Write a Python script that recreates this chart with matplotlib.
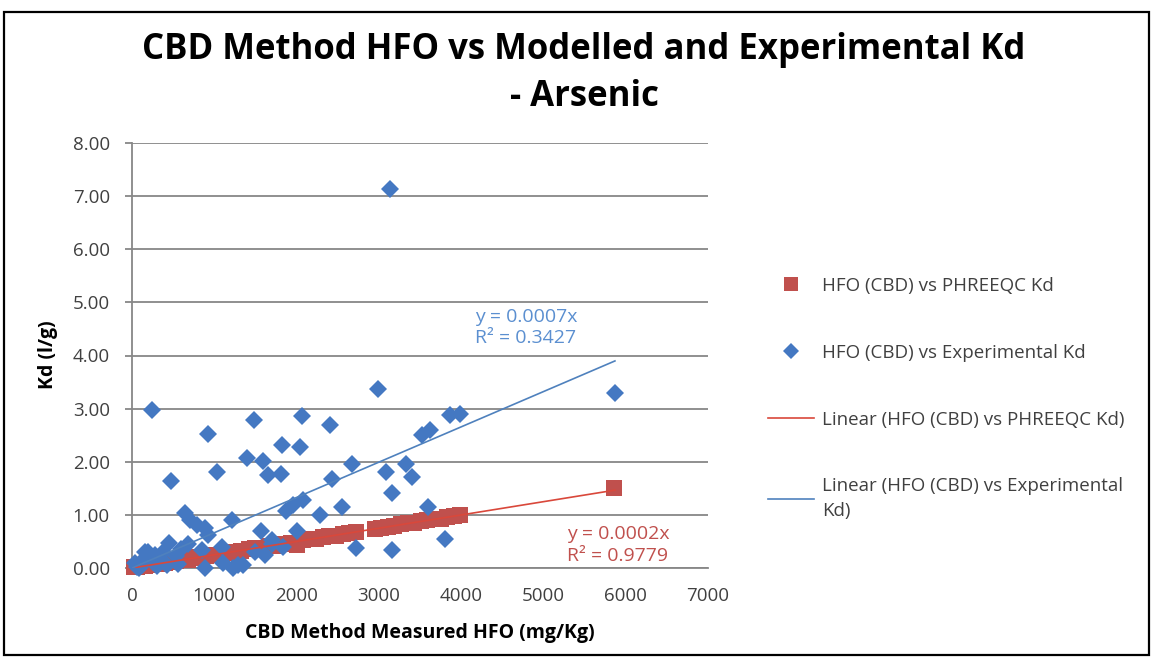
import matplotlib
matplotlib.use('Agg')
import matplotlib.pyplot as plt
import numpy as np
from matplotlib.lines import Line2D
from matplotlib.patches import Rectangle

plt.rcParams['font.family'] = ['Open Sans', 'DejaVu Sans']

# ---------------- data ----------------
hfo_phreeqc = [20, 60, 110, 160, 220, 280, 340, 400, 470, 540, 610, 680, 750, 820,
               900, 980, 1060, 1150, 1240, 1330, 1420, 1500, 1580, 1660, 1750, 1840,
               1930, 2000, 2080, 2160, 2240, 2320, 2400, 2480, 2560, 2640, 2720, 2950,
               3030, 3110, 3190, 3270, 3350, 3430, 3510, 3590, 3670, 3750, 3830, 3910,
               3990, 5860]
kd_phreeqc = [0.01, 0.02, 0.03, 0.04, 0.05, 0.07, 0.08, 0.09, 0.11, 0.13, 0.15, 0.16,
              0.18, 0.20, 0.22, 0.24, 0.25, 0.28, 0.30, 0.32, 0.35, 0.37, 0.38, 0.41,
              0.42, 0.45, 0.47, 0.44, 0.52, 0.54, 0.55, 0.58, 0.60, 0.61, 0.64, 0.66,
              0.68, 0.74, 0.76, 0.78, 0.79, 0.82, 0.84, 0.85, 0.88, 0.90, 0.92, 0.93,
              0.96, 0.98, 1.00, 1.51]

hfo_exp = [3135, 238, 927, 1486, 2066, 2406, 2993, 3520, 3621, 3864, 3985, 5869,
           1826, 2045, 1393, 1588, 1656, 1810, 1029, 474, 2677, 2430, 3082, 3326,
           3402, 3163, 3600, 2074, 1960, 1868, 2548, 2284, 1211, 644, 705, 786, 887,
           927, 1571, 2001, 2722, 3163, 3803, 450, 198, 684, 847, 1090, 1616, 1697,
           1839, 887, 1231, 1349, 36, 158, 279, 60, 120, 250, 350, 420, 530, 600,
           380, 1110, 1290, 1500, 1700, 90, 300, 560, 160]
kd_exp = [7.13, 2.97, 2.52, 2.79, 2.86, 2.69, 3.37, 2.50, 2.60, 2.88, 2.90, 3.30,
          2.31, 2.28, 2.08, 2.01, 1.75, 1.77, 1.81, 1.64, 1.96, 1.68, 1.81, 1.95,
          1.71, 1.41, 1.14, 1.28, 1.19, 1.08, 1.14, 1.00, 0.90, 1.04, 0.90, 0.81,
          0.75, 0.62, 0.70, 0.70, 0.38, 0.34, 0.54, 0.48, 0.30, 0.46, 0.34, 0.40,
          0.24, 0.53, 0.40, 0.00, 0.00, 0.06, 0.09, 0.31, 0.24, 0.02, 0.05, 0.12,
          0.16, 0.05, 0.22, 0.36, 0.30, 0.10, 0.05, 0.30, 0.45, 0.00, 0.04, 0.08,
          0.18]

x_ticks = [0, 1000, 2000, 3000, 4000, 5000, 6000, 7000]
y_ticks = [0, 1, 2, 3, 4, 5, 6, 7, 8]

title_lines = ["CBD Method HFO vs Modelled and Experimental Kd", "- Arsenic"]
xlabel_text = "CBD Method Measured HFO (mg/Kg)"
ylabel_text = "Kd (l/g)"
legend_labels = ["HFO (CBD) vs PHREEQC Kd",
                 "HFO (CBD) vs Experimental Kd",
                 "Linear (HFO (CBD) vs PHREEQC Kd)",
                 "Linear (HFO (CBD) vs Experimental\nKd)"]
eq_exp = ["y = 0.0007x", "R² = 0.3427"]
eq_phr = ["y = 0.0002x", "R² = 0.9779"]

# ---------------- styling ----------------
RED = '#C0504D'
RED_LINE = '#D9483B'
BLUE = '#4478C2'
BLUE_LINE = '#4F81BD'
BLUE_TXT = '#5B8FD0'
GRID = '#878787'
TXT = '#404040'

W, H = 1152, 657
fig = plt.figure(figsize=(W / 100, H / 100), dpi=100)
fig.patch.set_facecolor('white')

def fx(px):
    return px / W

def fy(py):
    return 1 - py / H

ax = fig.add_axes([fx(132), fy(568), fx(708) - fx(132), fy(143) - fy(568)])

ax.plot(hfo_phreeqc, kd_phreeqc, 's', color=RED, ms=11, ls='none', zorder=3,
        clip_on=False, markeredgewidth=0)
ax.plot(hfo_exp, kd_exp, 'D', color=BLUE, ms=9, ls='none', zorder=4,
        clip_on=False, markeredgewidth=0)

# trend lines through origin (least squares)
xr = np.array(hfo_phreeqc, float); yr = np.array(kd_phreeqc, float)
xe = np.array(hfo_exp, float); ye = np.array(kd_exp, float)
k_r = (xr * yr).sum() / (xr * xr).sum()
k_e = (xe * ye).sum() / (xe * xe).sum()
xx = np.array([0.0, max(xr.max(), xe.max())])
ax.plot(xx, k_r * xx, color=RED_LINE, lw=1.2, zorder=5)
ax.plot(xx, k_e * xx, color=BLUE_LINE, lw=1.2, zorder=5)

ax.set_xlim(0, 7000)
ax.set_ylim(0, 8)
ax.set_xticks(x_ticks)
ax.set_yticks(y_ticks)
ax.set_yticklabels([f"{v:.2f}" for v in y_ticks])
ax.grid(axis='y', color=GRID, lw=1.3)
ax.set_axisbelow(True)
for s in ['top', 'right']:
    ax.spines[s].set_visible(False)
for s in ['left', 'bottom']:
    ax.spines[s].set_color(GRID)
    ax.spines[s].set_linewidth(1.3)
ax.tick_params(axis='both', colors=GRID, labelcolor=TXT, labelsize=13.5,
               length=5, width=1.3, direction='out')
ax.tick_params(axis='x', length=0, pad=14)
ax.tick_params(axis='y', pad=11)

fig.text(fx(584), fy(50), title_lines[0], ha='center', va='center', fontsize=25,
         fontweight='bold', color='black')
fig.text(fx(584), fy(97), title_lines[1], ha='center', va='center', fontsize=25,
         fontweight='bold', color='black')
fig.text(fx(420), fy(633), xlabel_text, ha='center', va='center', fontsize=14,
         fontweight='bold', color='black')
fig.text(fx(48), fy(355), ylabel_text, ha='center', va='center', fontsize=14,
         fontweight='bold', color='black', rotation=90)

fig.text(fx(475), fy(317), eq_exp[0], ha='left', va='center', fontsize=14, color=BLUE_TXT)
fig.text(fx(475), fy(338), eq_exp[1], ha='left', va='center', fontsize=14, color=BLUE_TXT)
fig.text(fx(567), fy(534), eq_phr[0], ha='left', va='center', fontsize=14, color=RED)
fig.text(fx(567), fy(556), eq_phr[1], ha='left', va='center', fontsize=14, color=RED)

handles = [
    Line2D([], [], marker='s', color=RED, ls='none', ms=9.5, markeredgewidth=0),
    Line2D([], [], marker='D', color=BLUE, ls='none', ms=8.5, markeredgewidth=0),
    Line2D([], [], color=RED_LINE, lw=1.2),
    Line2D([], [], color=BLUE_LINE, lw=1.2),
]
leg = fig.legend(handles, legend_labels, loc='upper left',
                 bbox_to_anchor=(fx(768), fy(277)), frameon=False,
                 fontsize=13.5, handlelength=2.45, handletextpad=0.45,
                 borderpad=0, borderaxespad=0, labelspacing=2.6)
for t in leg.get_texts():
    t.set_color(TXT)
    t.set_linespacing(1.5)

fig.add_artist(Rectangle((fx(4), fy(655)), fx(1149) - fx(4), fy(12) - fy(655),
                         transform=fig.transFigure, fill=False, edgecolor='black',
                         lw=1.6))

fig.savefig('out.png', dpi=100)
